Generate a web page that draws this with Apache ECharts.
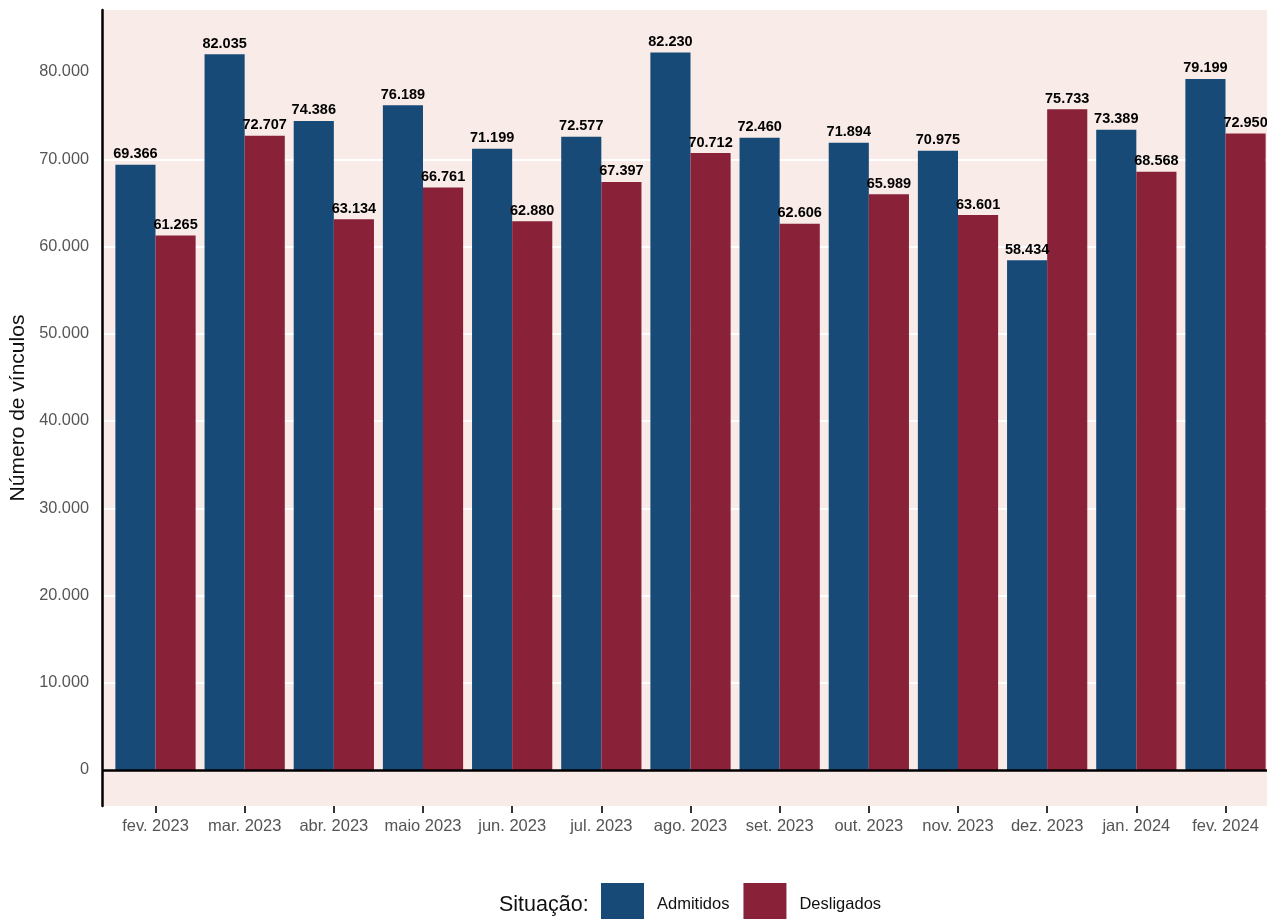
<!DOCTYPE html>
<html>
<head>
<meta charset="utf-8">
<script src="https://cdn.jsdelivr.net/npm/echarts@6/dist/echarts.min.js"></script>
<style>
html,body{margin:0;padding:0;background:#fff;}
#chart{width:1267px;height:919px;}
</style>
</head>
<body>
<div id="chart"></div>
<script>
const categories = ['fev. 2023','mar. 2023','abr. 2023','maio 2023','jun. 2023','jul. 2023','ago. 2023','set. 2023','out. 2023','nov. 2023','dez. 2023','jan. 2024','fev. 2024'];
const admitidos = [69366, 82035, 74386, 76189, 71199, 72577, 82230, 72460, 71894, 70975, 58434, 73389, 79199];
const desligados = [61265, 72707, 63134, 66761, 62880, 67397, 70712, 62606, 65989, 63601, 75733, 68568, 72950];
const yTicks = [0, 10000, 20000, 30000, 40000, 50000, 60000, 70000, 80000];

function fmt(v){
  const s = String(Math.round(Math.abs(v)));
  const r = s.replace(/\B(?=(\d{3})+(?!\d))/g, '.');
  return (v < 0 ? '-' : '') + r;
}
const xIdx = categories.map((c,i)=>i);
const FONT = 'Liberation Sans, Arial, sans-serif';

const chart = echarts.init(document.getElementById('chart'), null, {renderer:'canvas'});
const labelStyle = {
  show: true, position: 'top', distance: 3,
  color: '#000', fontWeight: 'bold', fontSize: 14.5,
  fontFamily: FONT,
  formatter: p => fmt(p.value[1])
};
chart.setOption({
  animation: false,
  backgroundColor: '#ffffff',
  textStyle: {fontFamily: FONT},
  grid: {
    left: 102, width: 1177, top: 10, bottom: 113,
    show: true, backgroundColor: '#f9ebe7', borderWidth: 0,
    containLabel: false, outerBoundsMode: 'none'
  },
  title: {
    text: 'Situação:', left: 499, top: 894, padding: 0,
    textStyle: {fontSize: 21.5, fontWeight: 'normal', color: '#111', fontFamily: FONT}
  },
  legend: {
    left: 601, top: 883, padding: 0, itemWidth: 43, itemHeight: 42, itemGap: 14,
    icon: 'rect',
    textStyle: {fontSize: 16.5, color: '#111', padding: [0,0,0,8], fontFamily: FONT},
    data: ['Admitidos','Desligados']
  },
  xAxis: {
    type: 'value',
    min: -0.6, max: 12.6,
    axisLine: {show: false, onZero: false},
    splitLine: {show: false},
    axisTick: {show: true, length: 7, lineStyle: {color: '#333', width: 2}, customValues: xIdx},
    axisLabel: {
      show: true, customValues: xIdx, color: '#555', fontSize: 16.5, margin: 12,
      formatter: v => (Number.isInteger(v) && categories[v] !== undefined) ? categories[v] : ''
    }
  },
  yAxis: {
    type: 'value',
    min: -4126, max: 87106,
    name: 'Número de vínculos',
    nameLocation: 'middle', nameGap: 71, nameRotate: 90,
    nameTextStyle: {fontSize: 21, color: '#111'},
    axisLine: {show: true, onZero: false, lineStyle: {color: '#000', width: 2.5}},
    axisTick: {show: false, customValues: yTicks},
    axisLabel: {
      customValues: yTicks, color: '#555', fontSize: 16.3, margin: 13,
      formatter: v => (v % 10000 === 0) ? fmt(v) : ''
    },
    splitLine: {show: true, showMinLine: false, showMaxLine: false, lineStyle: {color: '#ffffff', width: 2}}
  },
  series: [
    {
      name: 'Admitidos', type: 'bar',
      data: admitidos.map((v,i)=>[i, v]),
      barWidth: '45%', barGap: '0%',
      itemStyle: {color: '#184a78'},
      label: labelStyle,
      markLine: {
        silent: true, symbol: 'none', label: {show: false},
        lineStyle: {color: '#000', width: 2.5, type: 'solid'},
        data: [{yAxis: 0}]
      },
      z: 2
    },
    {
      name: 'Desligados', type: 'bar',
      data: desligados.map((v,i)=>[i, v]),
      barWidth: '45%', barGap: '0%',
      itemStyle: {color: '#892238'},
      label: labelStyle,
      z: 2
    }
  ]
});
</script>
</body>
</html>
